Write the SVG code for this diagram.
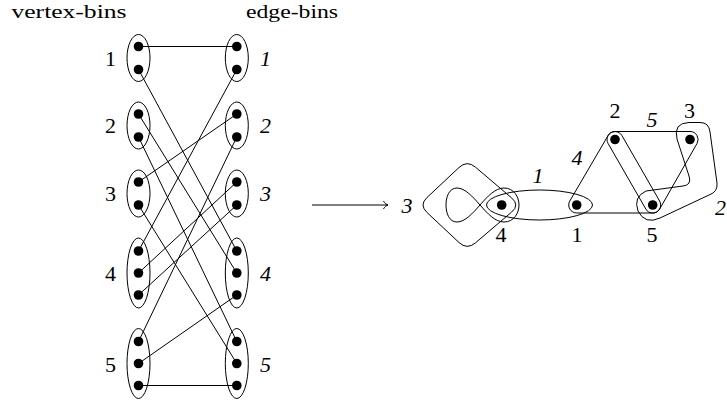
<svg xmlns="http://www.w3.org/2000/svg" width="727" height="402" viewBox="0 0 727 402">
<style>
text{font-family:"Liberation Serif","Times New Roman",serif;font-size:22px;fill:#000}
.it{font-style:italic}
.c{text-anchor:middle}
.ttl{font-size:19px}
.ln{stroke:#000;stroke-width:1;fill:none}
.bin{stroke:#000;stroke-width:1;fill:none}
.dot{fill:#000}
</style>
<defs>
<marker id="to" viewBox="-6 -5 8 10" markerWidth="8" markerHeight="10" refX="0" refY="0" orient="auto" markerUnits="userSpaceOnUse">
<path d="M-4.5,-4 C-3.5,-1.5 -1,-0.3 0,0 C-1,0.3 -3.5,1.5 -4.5,4" fill="none" stroke="#000" stroke-width="1"/>
</marker>
</defs>
<rect width="727" height="402" fill="#fff"/>
<text class="ttl" x="11.5" y="17.5" textLength="115" lengthAdjust="spacingAndGlyphs">vertex-bins</text>
<text class="ttl" x="246" y="17.5" textLength="92" lengthAdjust="spacingAndGlyphs">edge-bins</text>

<g id="connectors">
<line class="ln" x1="138.5" y1="46.5" x2="236.8" y2="46.5"/>
<line class="ln" x1="138.5" y1="69.5" x2="236.8" y2="251"/>
<line class="ln" x1="138.5" y1="114" x2="236.8" y2="273"/>
<line class="ln" x1="138.5" y1="137" x2="236.8" y2="341.5"/>
<line class="ln" x1="138.5" y1="182" x2="236.8" y2="114"/>
<line class="ln" x1="138.5" y1="205" x2="236.8" y2="363.5"/>
<line class="ln" x1="138.5" y1="251" x2="236.8" y2="69.5"/>
<line class="ln" x1="138.5" y1="273" x2="236.8" y2="182"/>
<line class="ln" x1="138.5" y1="295" x2="236.8" y2="205"/>
<line class="ln" x1="138.5" y1="341.5" x2="236.8" y2="137"/>
<line class="ln" x1="138.5" y1="363.5" x2="236.8" y2="295"/>
<line class="ln" x1="138.5" y1="385.5" x2="236.8" y2="385.5"/>
<line class="ln" x1="312" y1="205" x2="388" y2="205" marker-end="url(#to)"/>
</g>

<g id="v1"><ellipse class="bin" cx="138.5" cy="58" rx="11.5" ry="23.5"/><circle class="dot" cx="138.5" cy="46.5" r="4.8"/><circle class="dot" cx="138.5" cy="69.5" r="4.8"/><text class="c" x="110.5" y="65.5">1</text></g>
<g id="v2"><ellipse class="bin" cx="138.5" cy="125.5" rx="11.5" ry="23.5"/><circle class="dot" cx="138.5" cy="114" r="4.8"/><circle class="dot" cx="138.5" cy="137" r="4.8"/><text class="c" x="110.5" y="133">2</text></g>
<g id="v3"><ellipse class="bin" cx="138.5" cy="193.5" rx="11.5" ry="23.5"/><circle class="dot" cx="138.5" cy="182" r="4.8"/><circle class="dot" cx="138.5" cy="205" r="4.8"/><text class="c" x="110.5" y="201">3</text></g>
<g id="v4"><ellipse class="bin" cx="138.5" cy="273" rx="11.5" ry="35"/><circle class="dot" cx="138.5" cy="251" r="4.8"/><circle class="dot" cx="138.5" cy="273" r="4.8"/><circle class="dot" cx="138.5" cy="295" r="4.8"/><text class="c" x="110.5" y="281">4</text></g>
<g id="v5"><ellipse class="bin" cx="138.5" cy="363.5" rx="11.5" ry="35"/><circle class="dot" cx="138.5" cy="341.5" r="4.8"/><circle class="dot" cx="138.5" cy="363.5" r="4.8"/><circle class="dot" cx="138.5" cy="385.5" r="4.8"/><text class="c" x="110.5" y="371.5">5</text></g>

<g id="e1"><ellipse class="bin" cx="236.8" cy="58" rx="11.5" ry="23.5"/><circle class="dot" cx="236.8" cy="46.5" r="4.8"/><circle class="dot" cx="236.8" cy="69.5" r="4.8"/><text class="c it" x="265.5" y="65.5">1</text></g>
<g id="e2"><ellipse class="bin" cx="236.8" cy="125.5" rx="11.5" ry="23.5"/><circle class="dot" cx="236.8" cy="114" r="4.8"/><circle class="dot" cx="236.8" cy="137" r="4.8"/><text class="c it" x="265.5" y="133">2</text></g>
<g id="e3"><ellipse class="bin" cx="236.8" cy="193.5" rx="11.5" ry="23.5"/><circle class="dot" cx="236.8" cy="182" r="4.8"/><circle class="dot" cx="236.8" cy="205" r="4.8"/><text class="c it" x="265.5" y="201">3</text></g>
<g id="e4"><ellipse class="bin" cx="236.8" cy="273" rx="11.5" ry="35"/><circle class="dot" cx="236.8" cy="251" r="4.8"/><circle class="dot" cx="236.8" cy="273" r="4.8"/><circle class="dot" cx="236.8" cy="295" r="4.8"/><text class="c it" x="265.5" y="281">4</text></g>
<g id="e5"><ellipse class="bin" cx="236.8" cy="363.5" rx="11.5" ry="35"/><circle class="dot" cx="236.8" cy="341.5" r="4.8"/><circle class="dot" cx="236.8" cy="363.5" r="4.8"/><circle class="dot" cx="236.8" cy="385.5" r="4.8"/><text class="c it" x="265.5" y="371.5">5</text></g>

<g id="hyperedges">
<g id="h-e3">
<path class="ln" d="M459,167.5 Q467,160 475.4,167.1 L511.6,197.9 Q520,205 511.6,212.1 L475.4,242.9 Q467,250 459,242.5 L427,212.5 Q419,205 427,197.5 Z"/>
<path class="ln" d="M480,205 C487,197 495,188 504,188 C514,188 519,197 519,205 C519,213 514,222 504,222 C495,222 487,213 480,205 C473,197 465,188 457,188 C449,188 446,197 446,205 C446,213 449,222 457,222 C465,222 473,213 480,205 Z"/>
<text class="c it" x="407" y="213">3</text>
</g>
<g id="h-e1">
<ellipse class="ln" cx="539.5" cy="205" rx="53" ry="15"/>
<text class="c it" x="538" y="183">1</text>
</g>
<g id="h-e4">
<path class="ln" d="M569.8,201 L608.1,135.5 A8 8 0 0 1 621.9,135.5 L659.6,201 A8 8 0 0 1 652.7,213 L576.7,213 A8 8 0 0 1 569.8,201 Z"/>
<text class="c it" x="577" y="165">4</text>
</g>
<g id="h-e5">
<path class="ln" d="M615,131.5 L690,131.5 A8 8 0 0 1 697,143.5 L659.7,209 A8 8 0 0 1 645.8,209 L608.1,143.5 A8 8 0 0 1 615,131.5 Z"/>
<text class="c it" x="652" y="126.5">5</text>
</g>
<g id="h-e2">
<path class="ln" d="M646,191 L683,186 Q692,185 689,176 L677,139 Q673,123 689,122.5 L700,122.5 Q709,122.5 710,132 L717,183 Q718,192 709,195 L660,218 Q645,225 638,211 Q633,197 646,191 Z"/>
<text class="it" x="715" y="215">2</text>
</g>
</g>

<g id="n4"><circle class="dot" cx="501.7" cy="205" r="4.8"/><text class="c" x="501" y="241.5">4</text></g>
<g id="n1"><circle class="dot" cx="576.7" cy="205" r="4.8"/><text class="c" x="577" y="241.5">1</text></g>
<g id="n5"><circle class="dot" cx="652.7" cy="205" r="4.8"/><text class="c" x="652" y="241.5">5</text></g>
<g id="n2"><circle class="dot" cx="615" cy="139.5" r="4.8"/><text class="c" x="615" y="118.3">2</text></g>
<g id="n3"><circle class="dot" cx="690" cy="139.5" r="4.8"/><text class="c" x="689.5" y="118.3">3</text></g>
</svg>
